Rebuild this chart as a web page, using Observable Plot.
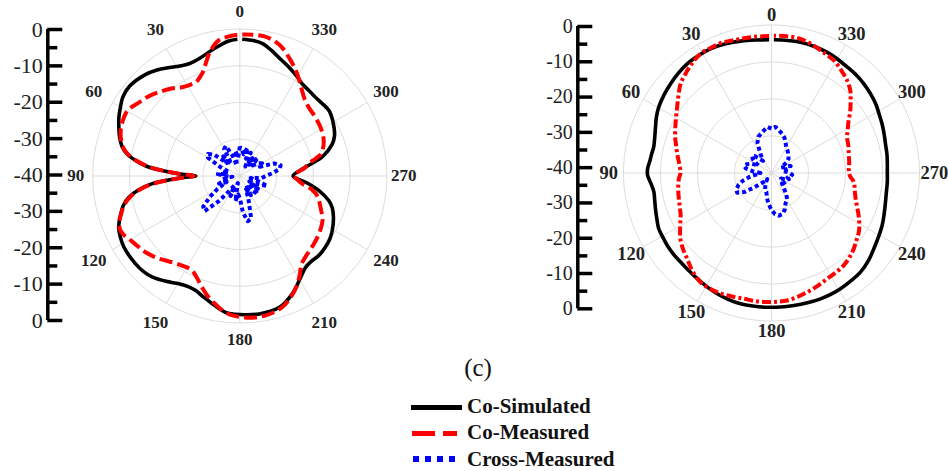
<!DOCTYPE html>
<html><head><meta charset="utf-8">
<script src="https://cdn.jsdelivr.net/npm/d3@7"></script>
<script src="https://cdn.jsdelivr.net/npm/@observablehq/plot@0.6"></script>
<style>
body{margin:0;background:#fff;}
#fig{position:relative;width:948px;height:471px;overflow:hidden;font-family:"Liberation Serif","Times New Roman",serif;background:#fff;}
#fig svg text{font-family:"Liberation Serif","Times New Roman",serif;}
.sw{position:absolute;}
.lt{position:absolute;font-weight:bold;font-size:21px;line-height:21px;color:#111;white-space:nowrap;}
</style></head><body><div id="fig"></div>
<script>
// ---------- data ----------
const angleTicks = [0, 30, 60, 90, 120, 150, 180, 210, 240, 270, 300, 330];
const radialTickLabels = [0, -10, -20, -30, -40, -30, -20, -10, 0];
const ringLevels = [-30, -20, -10, 0];
const legendItems = ["Co-Simulated", "Co-Measured", "Cross-Measured"];
const panelCaption = "(c)";

// [angle (deg, counter-clockwise from top), level (dB)]
const leftCoSimulated = [[1,-2.8],[5,-3.2],[12,-4.8],[19,-6.2],[24,-6.5],[28,-6.0],[33,-4.8],[38,-3.4],[43,-2.3],[51,-1.3],[56,-1.6],[60,-2.5],[64,-3.4],[68,-4.5],[72,-5.6],[76,-7.0],[79,-8.8],[81.5,-11.3],[84,-14.5],[86,-18.8],[88,-23.5],[90,-28],[92,-23.5],[95,-16.1],[98,-12],[101,-9.2],[104,-7.4],[108,-5.9],[113,-4.2],[117,-3.5],[121.5,-3.0],[130,-2.9],[135,-3.1],[139,-3.6],[145,-5.0],[150.5,-6.3],[155,-6.8],[159,-6.6],[163,-5.7],[168,-4.4],[174,-2.7],[180,-2.3],[188,-2.1],[197,-2.7],[204,-4.9],[208,-6.6],[212.5,-8.4],[216,-9.4],[220.6,-9.7],[225,-9.5],[230,-9.7],[235,-10.1],[239.5,-10.8],[246,-12.1],[251,-13.4],[254.6,-14.9],[259.6,-18.1],[264.6,-22],[270,-25.5],[277.6,-22],[283,-17],[289,-13.4],[293,-12],[297,-11.2],[302,-10.4],[306,-9.9],[311,-10.1],[316,-10.3],[321,-10.1],[326,-9.7],[330,-8.8],[334,-7.9],[338,-7.0],[342,-6],[346,-4.7],[350,-3.5],[354,-3.0],[359,-2.8]];
const leftCoMeasured = [[1,-1.6],[3,-1.7],[9,-2.7],[13,-4.9],[16,-7.3],[19,-9.7],[22,-11.0],[25,-11.8],[29,-11.7],[33,-11.2],[38,-9.8],[44,-8.3],[49,-7.0],[54,-6],[58,-5.0],[61,-4.6],[65,-4.8],[69,-5.3],[73,-6.2],[76,-7.2],[79,-9.0],[81.5,-11.5],[84,-14.8],[86,-19],[88,-23.8],[90,-27.5],[92,-23.8],[95,-16.5],[98,-12.2],[101,-9.5],[104,-7.6],[108,-6],[111,-4.8],[114.5,-4.3],[117,-4.6],[119.5,-5.3],[124,-6.2],[129,-7],[135,-8.4],[142,-10.2],[148,-11.1],[153,-11.2],[157,-10.0],[161,-8.1],[165,-6.2],[169,-4.6],[173,-3.0],[177,-2],[182,-1.5],[186,-1.3],[190,-1.4],[194,-1.8],[198,-2.5],[202,-3.9],[207,-6.1],[211,-8.4],[215,-10.7],[220,-11.8],[225,-12.4],[230,-12.9],[236,-13.6],[242,-14.5],[249,-16.5],[253,-17.5],[257,-18.8],[260,-20.5],[263,-22.9],[267,-24.5],[270,-25.3],[273,-24.5],[277,-22.3],[280,-21],[283,-18.8],[285,-17.2],[289,-16],[293,-15.2],[298,-14.6],[303.5,-14.2],[309,-13.9],[315,-13.5],[320,-12.6],[324,-11.2],[328,-9.4],[332,-7.5],[337,-5.3],[342,-3.1],[346,-2.0],[350,-1.4],[355,-1.4],[359,-1.5]];
const leftCrossMeasured = [[0,-32],[5,-35],[10,-33],[15,-37],[20,-34],[25,-31],[30,-31.5],[35,-36],[40,-33],[45,-35],[50,-31],[55,-29.5],[60,-30],[65,-34],[70,-37],[75,-35],[80,-36.5],[85,-34],[90,-36],[95,-38],[100,-35],[105,-37],[110,-34],[115,-36],[120,-33],[125,-30],[130,-27],[135,-26.5],[140,-31],[145,-35],[150,-37],[155,-34],[160,-36],[165,-38],[170,-33],[175,-35],[180,-34],[185,-30],[190,-27.5],[195,-28],[200,-33],[205,-36],[210,-34],[215,-37],[220,-35],[225,-33],[230,-36],[235,-34],[240,-37],[245,-35],[250,-32],[255,-35],[260,-37],[265,-34],[270,-33],[275,-31],[280,-29],[285,-28.5],[290,-30],[295,-34],[300,-33],[305,-34],[310,-35.5],[315,-33],[320,-36],[325,-34],[330,-37],[335,-33],[340,-35],[345,-32],[350,-34],[355,-33],[360,-32]];

const rightCoSimulated = [[1,-4.0],[7,-3.8],[13.2,-3.4],[20,-2.9],[26.2,-2.6],[32,-2.6],[37.7,-2.7],[43,-3.1],[48.6,-3.6],[54,-4.1],[59.7,-4.7],[64,-5.4],[68.5,-6.3],[73,-7.0],[77.6,-7.4],[81,-7.2],[84,-7.0],[88,-6.5],[91,-6.5],[95,-7.3],[99,-7.8],[103,-7.6],[107,-7.2],[112,-6.6],[116.3,-6.0],[120,-5.9],[124.8,-5.7],[130,-5.6],[134.4,-5.6],[140,-5.4],[144.9,-5.1],[150,-4.7],[155.8,-4.2],[161,-3.9],[166.7,-3.7],[172,-3.7],[178,-3.7],[184,-3.7],[189.6,-3.7],[195,-3.6],[201.3,-3.5],[206,-3.5],[210.8,-3.6],[216,-3.8],[221.9,-4.0],[228,-4.7],[233.5,-5.6],[239,-6.3],[244.6,-6.9],[250,-7.6],[255.6,-8.2],[260,-8.5],[265.5,-8.6],[270,-8.7],[274.5,-8.6],[279,-8.4],[284.4,-8.2],[289,-7.8],[294,-7.3],[299,-6.8],[303.6,-6.2],[309,-5.7],[314,-5.3],[319,-5.0],[324.4,-4.8],[330,-4.4],[335.2,-4.1],[341,-3.9],[347.5,-3.8],[353,-3.9],[359,-4.0]];
const rightCoMeasured = [[1,-3.0],[7,-2.9],[13,-2.8],[17,-2.6],[21.5,-2.3],[26,-2.4],[30.8,-2.5],[35,-3.2],[40,-4.3],[45.6,-5.6],[50,-7.2],[55.1,-8.9],[60,-10.2],[64.5,-11.2],[70,-12.3],[74,-13.2],[78.5,-14],[84,-14.9],[90,-15.4],[93.6,-14.9],[100,-14.4],[105.6,-14],[110,-13.6],[115,-12.9],[120,-11.5],[125.9,-9.6],[131,-8.4],[135.5,-7.5],[141,-6.0],[147,-4.8],[151,-4.6],[155.5,-4.6],[161,-4.9],[167.6,-5.2],[173,-5.1],[178.1,-5.1],[183,-5.2],[187,-5.3],[192,-5.8],[196.7,-6.4],[202,-7.0],[207.8,-7.7],[213,-8.0],[218,-8.3],[223,-9.0],[227.4,-9.8],[232,-10.8],[235.9,-11.5],[240,-12.6],[244,-13.8],[248,-15.0],[252.9,-16.2],[258,-17.0],[263.6,-17.6],[268,-18.8],[272,-19.1],[278,-18.8],[284,-18.5],[289,-18.0],[295.3,-17.4],[300,-16.2],[304.2,-14.8],[308,-13.0],[312.5,-11],[316,-9.3],[320.7,-7.7],[326,-6.4],[331,-5.2],[335,-4.7],[338.2,-4.3],[343,-3.5],[347.8,-2.9],[353,-2.8],[359,-2.9]];
const rightCrossMeasured = [[0,-28],[5,-27.5],[10,-28.3],[15,-29],[20,-29.6],[25,-31],[30,-34],[35,-36],[40,-35],[45,-33.5],[50,-33],[55,-34],[60,-36],[65,-34],[70,-33],[75,-32.3],[80,-33],[85,-35],[90,-37],[95,-36],[100,-34],[105,-32],[110,-30.5],[115,-29.5],[120,-29.3],[125,-31],[130,-34],[135,-36],[140,-37],[145,-38],[150,-37],[155,-36],[160,-35],[165,-34.7],[170,-33],[175,-31.5],[180,-30],[185,-28.8],[190,-28.3],[195,-28.5],[200,-29.5],[205,-31],[210,-31.5],[215,-33],[220,-35],[225,-36],[230,-35],[235,-36.5],[240,-37],[245,-36],[250,-35],[255,-35.5],[260,-34.8],[265,-34.4],[270,-35],[275,-36],[280,-37],[285,-35],[290,-34.5],[295,-36],[300,-37],[305,-35],[310,-34],[315,-33.5],[320,-33],[325,-32.5],[330,-32],[335,-31],[340,-29.8],[345,-29],[350,-28.3],[355,-27.5],[360,-28]];

// ---------- helpers ----------
const FLOOR = -40; // centre of the polar plot
const rad = a => a * Math.PI / 180;
const toXY = ([a, db]) => {
  const r = Math.max(0, db - FLOOR);
  return {x: -r * Math.sin(rad(a)), y: r * Math.cos(rad(a))};
};
const fig = document.getElementById("fig");
const font = "Liberation Serif";
function place(el, left, top) {
  el.style.position = "absolute";
  el.style.left = left + "px";
  el.style.top = top + "px";
  el.style.maxWidth = "none";
  fig.appendChild(el);
}

function radialAxis({left, width, height, lineX, topY, bottomY, fontSize}) {
  const major = radialTickLabels.map((v, i) => ({label: v, pos: i < radialTickLabels.length / 2 ? v - FLOOR : -(v - FLOOR)}));
  const minor = d3.pairs(major).map(([a, b]) => (a.pos + b.pos) / 2);
  const span = -FLOOR;
  const el = Plot.plot({
    width, height,
    marginLeft: lineX - left, marginRight: width - (lineX - left) - 15,
    marginTop: topY, marginBottom: height - bottomY,
    x: {domain: [0, 15], axis: null},
    y: {domain: [-span, span], axis: null},
    style: {background: "transparent", overflow: "visible"},
    marks: [
      Plot.ruleX([0], {y1: -span, y2: span, stroke: "#000", strokeWidth: 3.5}),
      Plot.ruleY(major, {y: "pos", x1: 0, x2: 15, stroke: "#000", strokeWidth: 3.5}),
      Plot.ruleY(minor, {y: d => d, x1: 0, x2: 10, stroke: "#000", strokeWidth: 3.5}),
      Plot.text(major, {y: "pos", x: 0, text: d => String(d.label), textAnchor: "end", dx: -5, fontSize, fontFamily: font, fill: "#222"})
    ]
  });
  place(el, left, 0);
}

// labelR(angle) gives the pixel distance of each angle label from the centre
function polarPanel({left, width, height, cx, cy, R, labelR, labelSize, series}) {
  const k = R / (-FLOOR);
  const xd = [-(cx - left) / k, (left + width - cx) / k];
  const yd = [-(height - cy) / k, cy / k];
  const rings = ringLevels.flatMap(level => d3.range(0, 361, 2).map(a => ({...toXY([a, level]), level})));
  const marks = [
    Plot.line(rings, {x: "x", y: "y", z: "level", stroke: "#dcdcdc", strokeWidth: 1}),
    Plot.link(angleTicks, {x1: 0, y1: 0, x2: a => toXY([a, 0]).x, y2: a => toXY([a, 0]).y, stroke: "#dcdcdc", strokeWidth: 1}),
    Plot.text(angleTicks, {x: a => -labelR(a) / k * Math.sin(rad(a)), y: a => labelR(a) / k * Math.cos(rad(a)), text: a => String(a), fontWeight: "bold", fontSize: labelSize, fontFamily: font, fill: "#222"})
  ];
  for (const s of series) {
    marks.push(Plot.line(s.data.map(toXY), {x: "x", y: "y", curve: s.curve, stroke: s.color, strokeWidth: s.width, strokeDasharray: s.dash, strokeLinecap: "butt", strokeLinejoin: "round"}));
  }
  const el = Plot.plot({
    width, height, margin: 0,
    x: {domain: xd, axis: null},
    y: {domain: yd, axis: null},
    style: {background: "transparent", overflow: "visible"},
    marks
  });
  place(el, left, 0);
}

// ---------- left panel ----------
radialAxis({left: 0, width: 70, height: 360, lineX: 47.3, topY: 29, bottomY: 320, fontSize: 22});
polarPanel({left: 62, width: 380, height: 360, cx: 239.3, cy: 175.5, R: 147,
  labelR: a => 164 + 5.5 * Math.abs(Math.sin(rad(2 * a))), labelSize: 17,
  series: [
    {data: leftCoSimulated, color: "#000", width: 3.6, dash: null, curve: "catmull-rom"},
    {data: leftCoMeasured, color: "#ff0000", width: 4, dash: "13,5", curve: "catmull-rom"},
    {data: leftCrossMeasured, color: "#0000ff", width: 4, dash: "4,3", curve: "linear"}
  ]});

// ---------- right panel ----------
radialAxis({left: 520, width: 75, height: 360, lineX: 577.3, topY: 26, bottomY: 308.3, fontSize: 20});
polarPanel({left: 592, width: 356, height: 360, cx: 771, cy: 172.5, R: 148,
  labelR: a => 158 + 4.8 * Math.abs(Math.sin(rad(a))), labelSize: 18.5,
  series: [
    {data: rightCoSimulated, color: "#000", width: 3.6, dash: null, curve: "catmull-rom"},
    {data: rightCoMeasured, color: "#ff0000", width: 4, dash: "9,3,3,3", curve: "catmull-rom"},
    {data: rightCrossMeasured, color: "#0000ff", width: 4, dash: "4,3", curve: "linear"}
  ]});

// ---------- caption & legend ----------
const cap = document.createElement("div");
cap.textContent = panelCaption;
cap.style.cssText = "position:absolute;left:478px;top:354.6px;transform:translateX(-50%);font-size:25px;line-height:25px;color:#111;";
fig.appendChild(cap);

function sw(left, top, w, h, color) {
  const d = document.createElement("div");
  d.className = "sw";
  d.style.cssText = `left:${left}px;top:${top}px;width:${w}px;height:${h}px;background:${color};`;
  fig.appendChild(d);
}
sw(411, 405, 51, 5, "#000");
sw(412, 431, 23, 5, "#ff0000");
sw(443, 431, 14, 5, "#ff0000");
[413, 425, 437, 449].forEach(x => sw(x, 456, 6, 6, "#0000ff"));
const legendTops = [396.4, 422.4, 449.1];
legendItems.forEach((t, i) => {
  const d = document.createElement("div");
  d.className = "lt";
  d.textContent = t;
  d.style.left = "467px";
  d.style.top = legendTops[i] + "px";
  fig.appendChild(d);
});
</script>
</body></html>
